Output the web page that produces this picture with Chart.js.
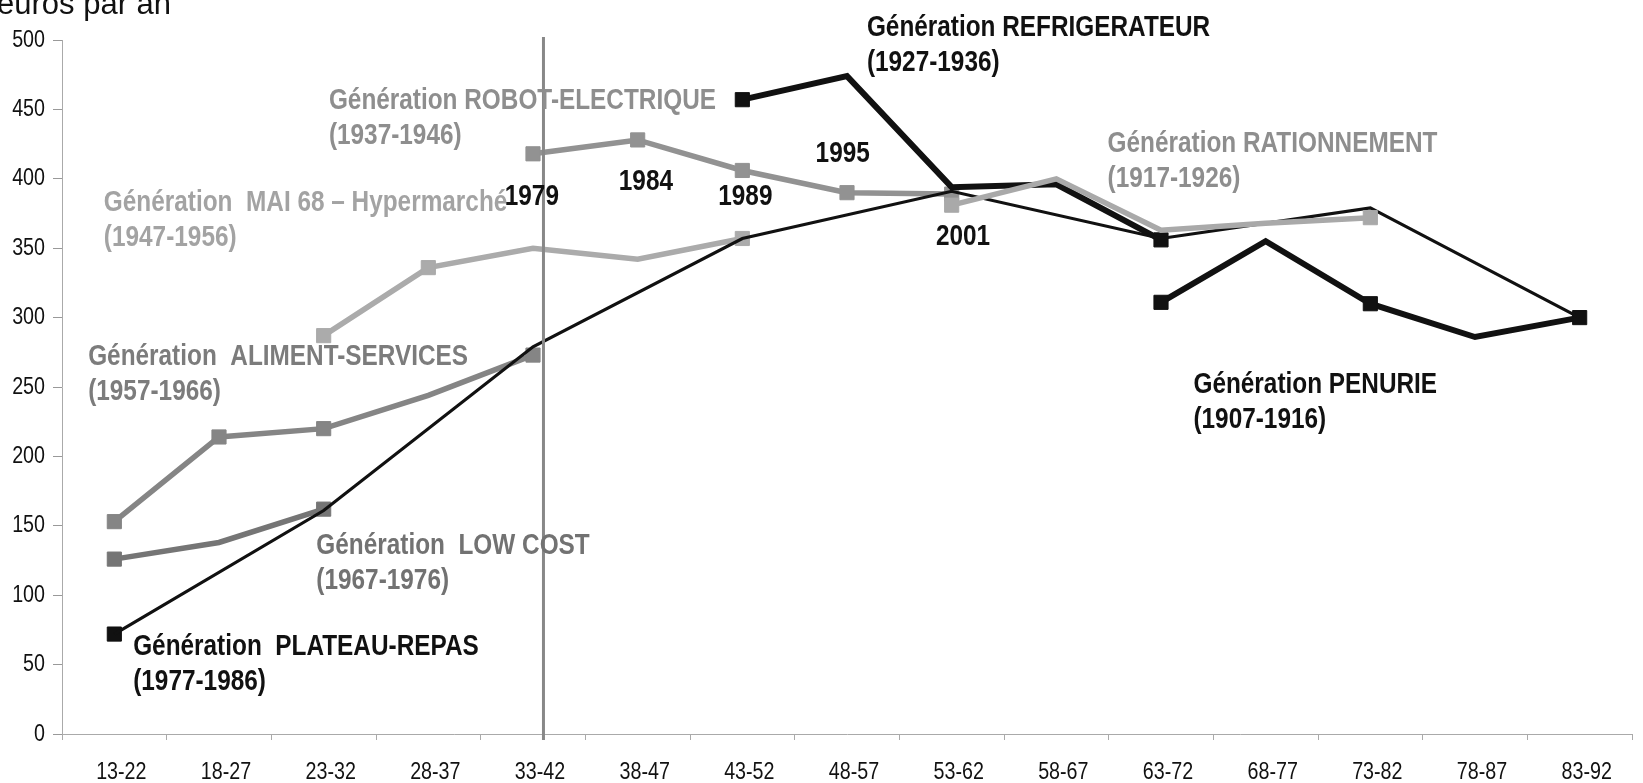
<!DOCTYPE html>
<html>
<head>
<meta charset="utf-8">
<script src="https://cdn.jsdelivr.net/npm/chart.js@4.4.1/dist/chart.umd.min.js"></script>
<style>
	body { margin:0; background:#fff; }
	#c { display:block; }
</style>
</head>
<body>
<canvas id="c" width="1643" height="783"></canvas>
<script>
// data ========================================================================

const ages = ['13-22', '18-27', '23-32', '28-37', '33-42', '38-47', '43-52', '48-57', '53-62', '58-67', '63-72', '68-77', '73-82', '78-87', '83-92']
const yMin = 0, yMax = 500, yStep = 50

//                       13-22 18-27 23-32 28-37 33-42 38-47 43-52 48-57 53-62 58-67 63-72 68-77 73-82 78-87 83-92
const penurie        = [null, null, null, null, null, null, null, null, null, null,  311,  355,  310,  286,  300]
const rationnement   = [null, null, null, null, null, null, null, null,  381,  400,  363,  368,  372, null, null]
const refrigerateur  = [null, null, null, null, null, null,  457,  474,  394,  396,  356, null, null, null, null]
const robotElec      = [null, null, null, null,  418,  428,  406,  390,  389, null, null, null, null, null, null]
const mai68          = [null, null,  287,  336,  350,  342,  357, null, null, null, null, null, null, null, null]
const alimServices   = [ 153,  214,  220,  244,  273, null, null, null, null, null, null, null, null, null, null]
const lowCost        = [ 126,  138,  162, null, null, null, null, null, null, null, null, null, null, null, null]
const plateauRepas   = [  72, null, null, null, null, null, null, null, null, null, null, null, null, null, null]
const annee2001      = [  72, null,  161, null,  279, null,  357, null,  391, null,  357, null,  379, null,  300]

const yearLabels = ['1979', '1984', '1989', '1995', '2001']
const genLabels = {
	refrigerateur: ['Génération REFRIGERATEUR', '(1927-1936)'],
	robotElec: ['Génération ROBOT-ELECTRIQUE', '(1937-1946)'],
	mai68: ['Génération  MAI 68 – Hypermarché', '(1947-1956)'],
	alimServices: ['Génération  ALIMENT-SERVICES', '(1957-1966)'],
	lowCost: ['Génération  LOW COST', '(1967-1976)'],
	plateauRepas: ['Génération  PLATEAU-REPAS', '(1977-1986)'],
	rationnement: ['Génération RATIONNEMENT', '(1917-1926)'],
	penurie: ['Génération PENURIE', '(1907-1916)'],
}
const yTitle = 'euros par an'

// style =======================================================================

const FONT = '"Liberation Sans", Arial, sans-serif'

const marks = a => ages.map((_, i) => a.includes(i) ? 10 : 0)

const line = (label, data, color, width, m) => ({
	label, data,
	borderColor: color,
	backgroundColor: color,
	pointBackgroundColor: color,
	pointBorderColor: color,
	borderWidth: width,
	pointStyle: 'rect',
	pointRadius: marks(m),
	pointBorderWidth: 1,
	tension: 0,
	spanGaps: true,
	fill: false,
})

// teks sempit (narrow) : font biasa dipadatkan horizontal
const narrow = (ctx, t, px, py, font, sx, align, base) => {
	ctx.save()
	ctx.translate(px, py)
	ctx.scale(sx, 1)
	ctx.font = font
	ctx.textAlign = align
	ctx.textBaseline = base
	ctx.fillText(t, 0, 0)
	ctx.restore()
}

// position des textes (index categorie, valeur) =================================
const notePos = [
	{k:'refrigerateur', x:7.19, y:503, c:'#111'},
	{k:'robotElec', x:2.05, y:450, c:'#8e8e8e'},
	{k:'mai68', x:-0.10, y:377, c:'#a3a3a3'},
	{k:'alimServices', x:-0.25, y:266, c:'#7c7c7c'},
	{k:'lowCost', x:1.93, y:130, c:'#727272'},
	{k:'plateauRepas', x:0.18, y:57, c:'#111'},
	{k:'rationnement', x:9.49, y:419, c:'#8e8e8e'},
	{k:'penurie', x:10.31, y:246, c:'#111'},
]
const yearPos = [[3.73, 381], [4.82, 392], [5.77, 381], [6.70, 412], [7.85, 352]]
const sepIndex = 4.1

const notes = {
	id: 'notes',
	afterDatasetsDraw(chart) {
		const {ctx, chartArea, scales:{x, y}} = chart
		ctx.save()
		
		// garis vertikal 33-42
		ctx.strokeStyle = '#888'
		ctx.lineWidth = 3
		ctx.beginPath()
		ctx.moveTo(x.getPixelForValue(sepIndex), chartArea.top - 3)
		ctx.lineTo(x.getPixelForValue(sepIndex), chartArea.bottom + 6)
		ctx.stroke()
		
		const bold = 'bold 29px ' + FONT
		notePos.forEach(n => {
			ctx.fillStyle = n.c
			genLabels[n.k].forEach((t, i) => narrow(ctx, t, x.getPixelForValue(n.x), y.getPixelForValue(n.y) + i * 35, bold, 0.84, 'left', 'alphabetic'))
		})
		ctx.fillStyle = '#111'
		yearLabels.forEach((t, i) => narrow(ctx, t, x.getPixelForValue(yearPos[i][0]), y.getPixelForValue(yearPos[i][1]), bold, 0.84, 'left', 'alphabetic'))
		
		// label sumbu
		const reg = '24px ' + FONT
		y.ticks.forEach((t, i) => narrow(ctx, String(t.value), y.right - 17, y.getPixelForTick(i), reg, 0.82, 'right', 'middle'))
		x.ticks.forEach((t, i) => narrow(ctx, ages[t.value], x.getPixelForTick(i) + 7, x.top + 38, reg, 0.82, 'center', 'middle'))
		
		ctx.font = '31px ' + FONT
		ctx.textAlign = 'left'
		ctx.textBaseline = 'alphabetic'
		ctx.fillText(yTitle, -3, 14)
		ctx.restore()
	}
}

new Chart(document.getElementById('c'), {
	type: 'line',
	data: {
		labels: ages,
		datasets: [
			line('RATIONNEMENT', rationnement, '#a9a9a9', 5.5, [8, 12]),
			line('2001', annee2001, '#111', 3.2, []),
			line('PLATEAU-REPAS', plateauRepas, '#111', 6, [0]),
			line('PENURIE', penurie, '#111', 6, [10, 12, 14]),
			line('REFRIGERATEUR', refrigerateur, '#111', 6, [6, 10]),
			line('LOW COST', lowCost, '#757575', 5.5, [0, 2]),
			line('ALIMENT-SERVICES', alimServices, '#858585', 5.5, [0, 1, 2, 4]),
			line('ROBOT-ELECTRIQUE', robotElec, '#929292', 5.5, [4, 5, 6, 7, 8]),
			line('MAI 68', mai68, '#ababab', 5.5, [2, 3, 6]),
		]
	},
	options: {
		responsive: false,
		animation: false,
		layout: { padding: { top: 40, right: 2, left: 0, bottom: 0 } },
		plugins: {
			legend: { display: false },
			tooltip: { enabled: false },
			title: { display: false },
		},
		scales: {
			y: {
				min: yMin,
				max: yMax,
				afterFit: s => { s.width = 62 },
				ticks: { stepSize: yStep, display: false },
				grid: { drawOnChartArea: false, tickLength: 9, color: '#999' },
				border: { color: '#aaa', dash: [2, 2], width: 1 },
			},
			x: {
				offset: true,
				afterFit: s => { s.height = 49 },
				ticks: { display: false, autoSkip: false },
				grid: { offset: true, drawOnChartArea: false, tickLength: 6, color: '#aaa' },
				border: { color: '#aaa', dash: [2, 2], width: 1 },
			}
		}
	},
	plugins: [notes]
})
</script>
</body>
</html>
